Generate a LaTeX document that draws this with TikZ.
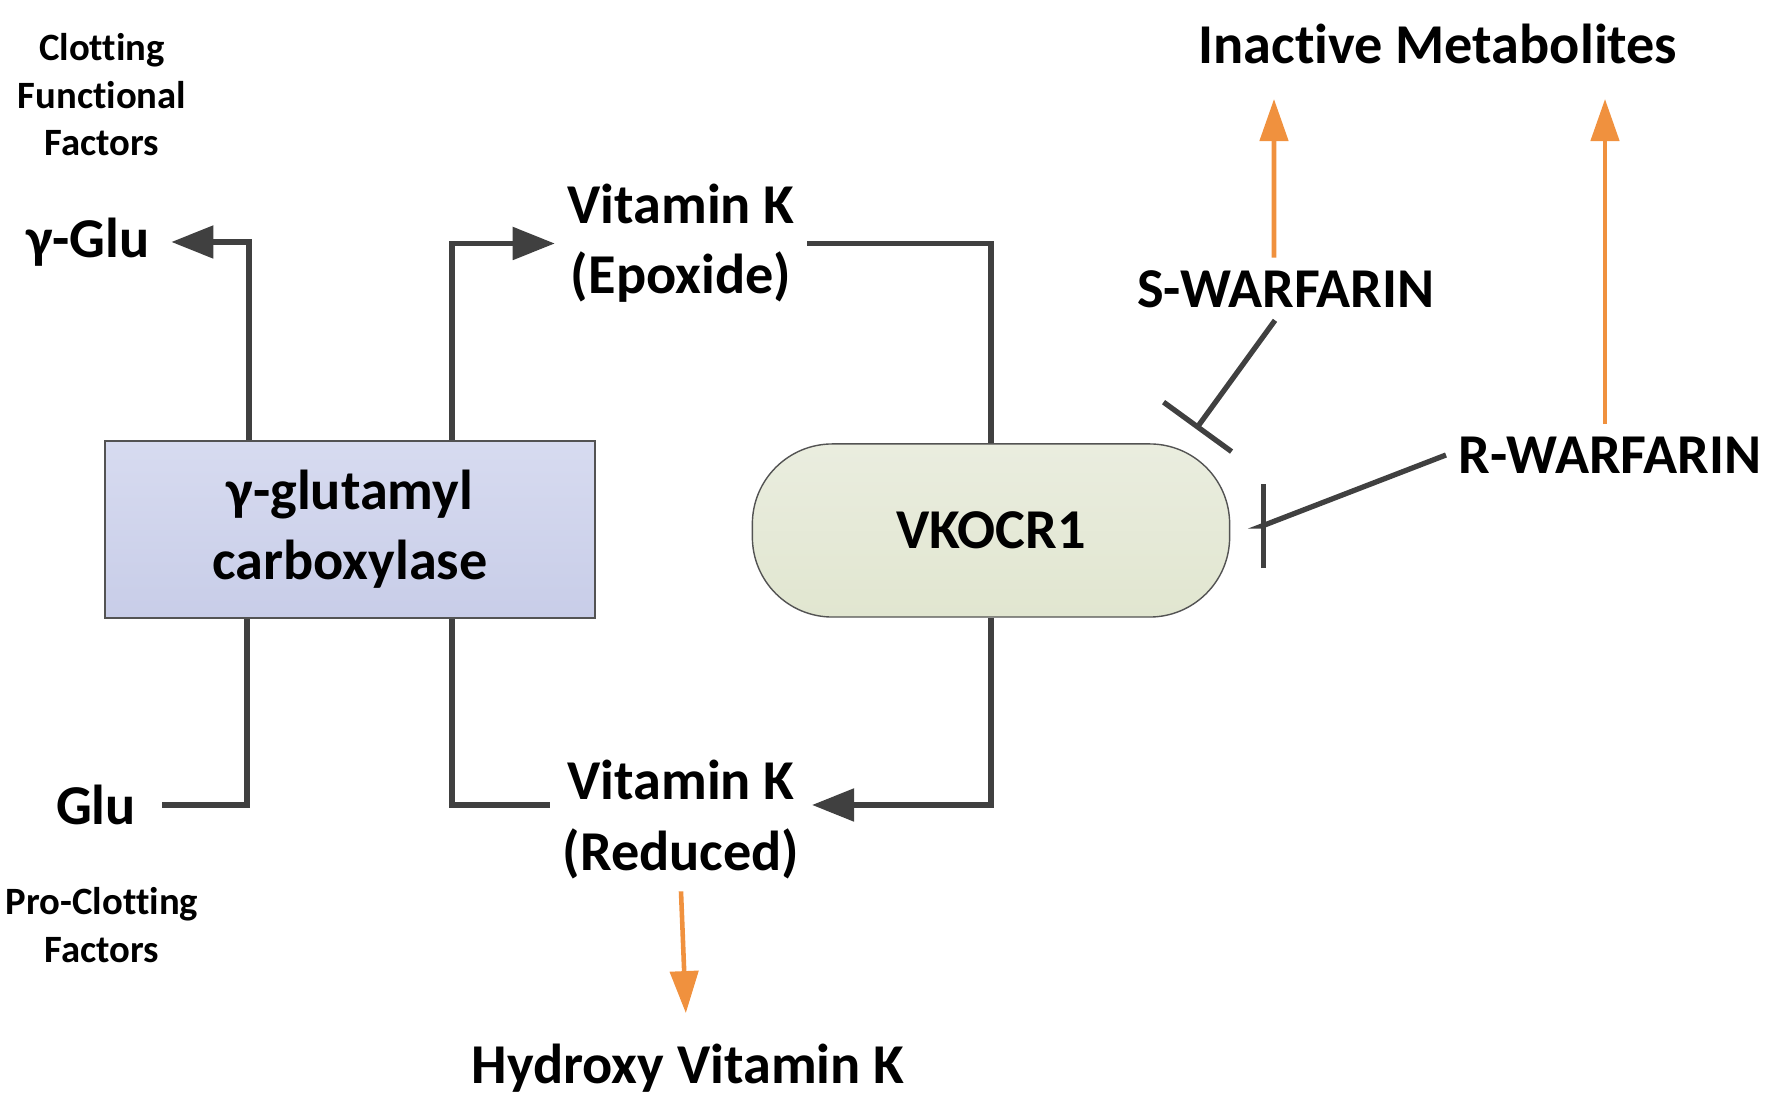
\documentclass[tikz,border=0pt]{standalone}
\usepackage{fontspec}
\setmainfont{Carlito}[Ligatures=NoCommon]
\usetikzlibrary{arrows.meta}
\definecolor{lineg}{HTML}{404040}
\definecolor{boxtop}{HTML}{D7DBF0}
\definecolor{boxbot}{HTML}{C8CDE8}
\definecolor{vktop}{HTML}{EAEDDF}
\definecolor{vkbot}{HTML}{E1E6D0}
\definecolor{metorange}{HTML}{F0913E}
\tikzset{
  lbl/.style={font=\bfseries\fontsize{16}{20}\selectfont, align=center, inner sep=0.12cm},
  factorlbl/.style={font=\bfseries\fontsize{11}{13.5}\selectfont, align=center},
  flow/.style={draw=lineg, line width=1.5pt},
  flowarr/.style={flow, -{Triangle[length=0.42cm,width=0.32cm]}},
  metab/.style={draw=metorange, line width=1.3pt, -{Triangle[length=0.42cm,width=0.28cm]}},
  inhib/.style={draw=lineg, line width=1.5pt, -{Bar[width=0.84cm]}},
}
\begin{document}
\begin{tikzpicture}[x=0.01cm,y=-0.01cm]
	\useasboundingbox (0,0) rectangle (1772,1107);
	% enzymes
	\node[lbl, draw=lineg!90, top color=boxtop, bottom color=boxbot, minimum width=4.9cm, minimum height=1.77cm] (gcb) at (350,529.5) {γ-glutamyl\\carboxylase};
	\node[lbl, draw=lineg!90, top color=vktop, bottom color=vkbot, rounded corners=0.8cm, minimum width=4.77cm, minimum height=1.73cm] (vk) at (991,530.5) {VKOCR1};
	% substrates and products
	\node[lbl, inner xsep=0.21cm] (gglu) at (88,242) {γ-Glu};
	\node[lbl, inner xsep=0.25cm] (glu) at (96,805) {Glu};
	\node[lbl] (epox) at (681,243.5) {Vitamin K\\(Epoxide)};
	\node[lbl] (red) at (681,819.5) {Vitamin K\\(Reduced)};
	\node[lbl] (hyd) at (688,1068) {Hydroxy Vitamin K};
	\node[lbl] (inact) at (1438,44) {Inactive Metabolites};
	\node[lbl] (swarf) at (1286,289) {S-WARFARIN};
	\node[lbl] (rwarf) at (1610,455) {R-WARFARIN};
	\node[factorlbl] (clot) at (102,95) {Clotting\\Functional\\Factors};
	\node[factorlbl] (proclot) at (102,925) {Pro-Clotting\\Factors};
	% vitamin K cycle
	\draw[flowarr] ([xshift=-1.01cm]gcb.north) |- (gglu);
	\draw[flowarr] ([xshift=1.02cm]gcb.north) |- (epox);
	\draw[flow] ([xshift=-1.03cm]gcb.south) |- (glu);
	\draw[flow] ([xshift=1.02cm]gcb.south) |- ([yshift=0.145cm]red.west);
	\draw[flow] (epox) -| (vk);
	\draw[flowarr] (vk) |- ([yshift=0.145cm]red.east);
	% warfarin
	\coordinate (sbar) at (1196,429);
	\coordinate (rbar) at (1262,526);
	\draw[inhib] ([xshift=-0.11cm]swarf.south) -- (sbar);
	\draw[inhib] (rwarf.west) -- (rbar) -- ++(-1,0);
	% metabolism
	\coordinate (stip) at (1274,99);
	\coordinate (rtip) at (1605,99);
	\draw[metab] ([xshift=-0.12cm]swarf.north) -- (stip);
	\draw[metab] (rwarf.north -| rtip) -- (rtip);
	\draw[metab, shorten >=0.18cm] (red.south) -- (hyd);
\end{tikzpicture}
\end{document}
